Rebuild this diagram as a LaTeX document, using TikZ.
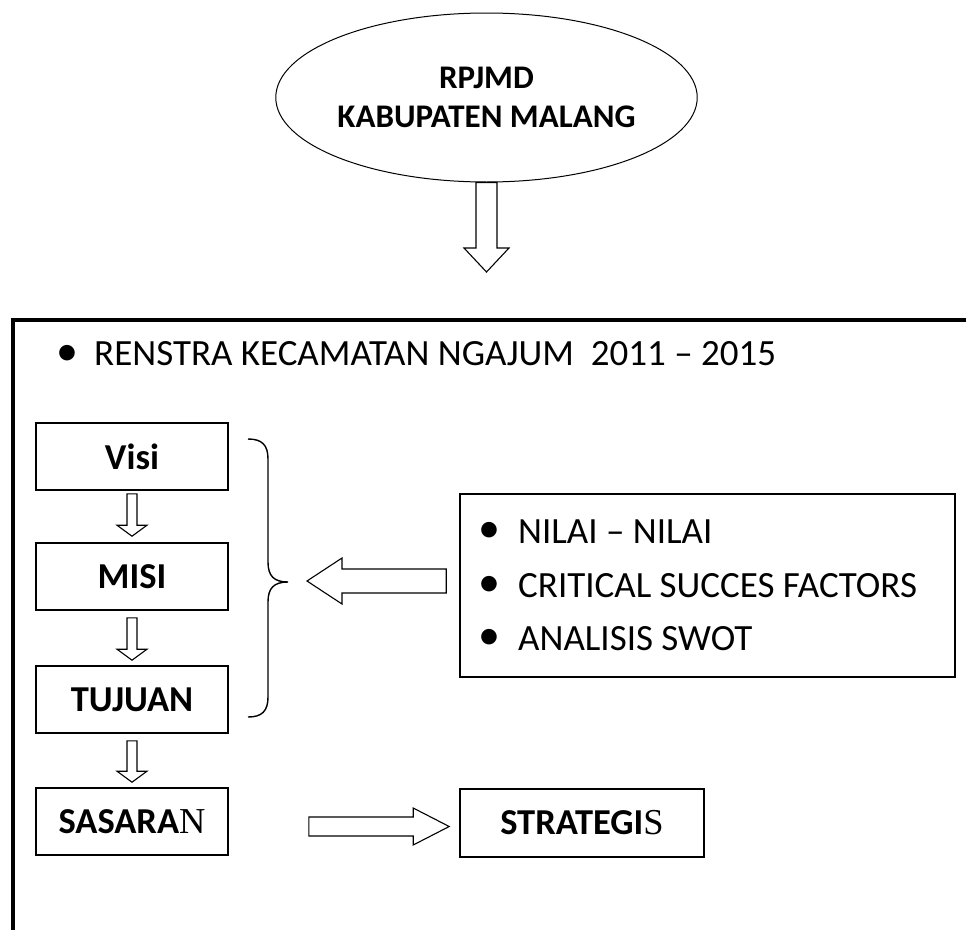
\documentclass[tikz,border=0pt]{standalone}
\usepackage{fontspec}
\setmainfont{Carlito}
\newfontfamily\tnr{Liberation Serif}
\usetikzlibrary{shapes.geometric,calc}
\newcommand\blkdown[5]{\draw[blk] ($(#1)+(-#3,0)$) -- ($(#1)+(#3,0)$) -- ($(#1 |- #2)+(#3,-#5)$) -- ($(#1 |- #2)+(#4,-#5)$) -- (#1 |- #2) -- ($(#1 |- #2)+(-#4,-#5)$) -- ($(#1 |- #2)+(-#3,-#5)$) -- cycle;}
\newcommand\blkhoriz[5]{\draw[blk] ($(#1)+(0,-#3)$) -- ($(#2 |- #1)+(#5,-#3)$) -- ($(#2 |- #1)+(#5,-#4)$) -- (#2 |- #1) -- ($(#2 |- #1)+(#5,#4)$) -- ($(#2 |- #1)+(#5,#3)$) -- ($(#1)+(0,#3)$) -- cycle;}
\begin{document}
\begin{tikzpicture}[x=1pt,y=-1pt,
  blk/.style={draw=black, line width=1.1pt, fill=white, line join=miter},
  boxnode/.style={draw=black, line width=1.6pt, minimum width=192pt, minimum height=67pt, inner sep=0pt, font=\fontsize{36.5}{44}\selectfont\bfseries},
  item/.style={anchor=base west, inner sep=0pt, font=\fontsize{37}{44}\selectfont},
  bul/.style={inner sep=0pt, font=\fontsize{44}{44}\selectfont}]
\useasboundingbox[fill=white] (0,0) rectangle (966,929);

% top ellipse
\node[draw, ellipse, line width=1pt, minimum width=397pt, minimum height=169pt, inner sep=0pt, align=center, font=\fontsize{33}{39}\selectfont\bfseries] (rpjmd) at (486.5,97.5) {RPJMD\\KABUPATEN MALANG};
\coordinate (a0e) at (486.5,272);
\blkdown{rpjmd.south}{a0e}{10.5}{22.5}{24}

% frame
\draw[line width=3.5pt] (13,935) -- (13,320) -- (975,320);

% title
\node[bul] (b0) at (67,355) {•};
\node[item] (title) at (94,365) {RENSTRA KECAMATAN NGAJUM~ 2011 – 2015};

% left column
\node[boxnode] (visi) at (132,456.5) {Visi};
\node[boxnode] (misi) at (132,576.5) {MISI};
\node[boxnode] (tujuan) at (132,699.5) {TUJUAN};
\node[boxnode] (sasaran) at (132,821.5) {SASARA{\tnr\mdseries N}};
\node[boxnode, minimum width=244pt, minimum height=68pt] (strat) at (582,823) {STRATEGI{\tnr\mdseries S}};

\coordinate (a1s) at ($(visi.south)+(0,3)$);
\coordinate (a1e) at ($(misi.north)+(0,-6)$);
\blkdown{a1s}{a1e}{5}{15}{11}
\coordinate (a2s) at ($(misi.south)+(0,7)$);
\coordinate (a2e) at ($(tujuan.north)+(0,-5)$);
\blkdown{a2s}{a2e}{5}{15}{11}
\coordinate (a3s) at ($(tujuan.south)+(0,7)$);
\coordinate (a3e) at ($(sasaran.north)+(0,-5)$);
\blkdown{a3s}{a3e}{5}{15}{11}

% sasaran -> strategis
\coordinate (a4s) at ($(sasaran.east)+(80,5)$);
\coordinate (a4e) at ($(strat.west)+(-10,0)$);
\blkhoriz{a4s}{a4e}{9.5}{18.5}{-36}

% brace
\coordinate (btip) at (288,582);
\draw[line width=1.4pt] (248,439) .. controls (262,439) and (268,445) .. (268,459) -- (268,562) .. controls (268,576) and (274,582) .. (btip) .. controls (274,582) and (268,588) .. (268,602) -- (268,697) .. controls (268,711) and (262,717) .. (248,717);

% list box
\node[draw, line width=1.5pt, minimum width=495pt, minimum height=183pt, inner sep=0pt] (list) at (707.5,585.5) {};
\node[bul] (b1) at (489,532) {•};
\node[item] (i1) at (518,543) {NILAI – NILAI};
\node[bul] (b2) at (489,586) {•};
\node[item] (i2) at (518,597) {CRITICAL SUCCES FACTORS};
\node[bul] (b3) at (489,639) {•};
\node[item] (i3) at (518,650) {ANALISIS SWOT};

% list -> brace
\coordinate (a5s) at ($(list.west)+(-13,-4.5)$);
\coordinate (a5e) at ($(btip)+(19,0)$);
\blkhoriz{a5s}{a5e}{12}{23}{35}
\end{tikzpicture}
\end{document}
